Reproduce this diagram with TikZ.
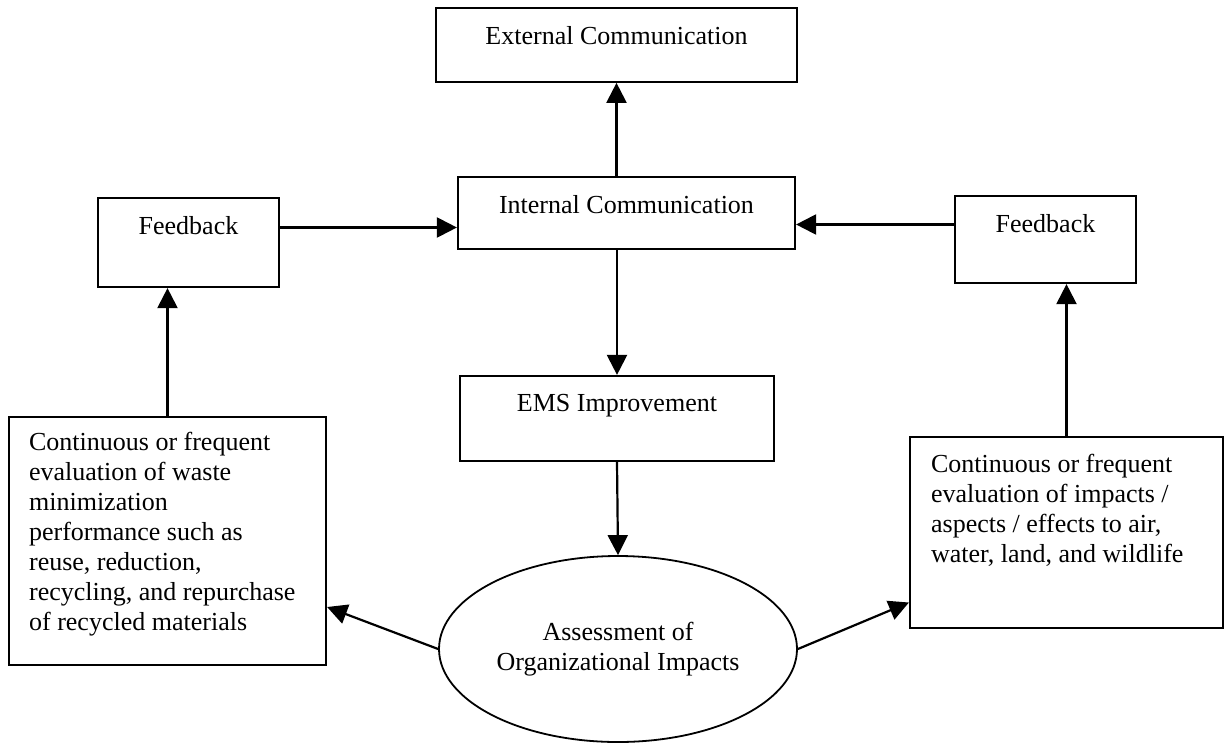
\documentclass[tikz,border=0pt]{standalone}
\usepackage{fontspec}
\setmainfont{Liberation Serif}
\usetikzlibrary{arrows.meta,shapes.geometric}
\begin{document}
\begin{tikzpicture}[x=1pt,y=-1pt,
  every node/.style={font=\fontsize{26}{30}\selectfont},
  frame/.style={draw, line width=2.2pt, rectangle, inner sep=0pt},
  toplabel/.style={anchor=north, yshift=-19pt, inner sep=0pt},
  cornerlabel/.style={anchor=north west, align=left, inner sep=0pt},
  link/.style={line width=2.2pt, -{Triangle[length=20pt,width=20pt]}}]
\useasboundingbox (0,0) rectangle (1225,742);

% communication and feedback boxes
\node[frame, minimum width=361pt, minimum height=73.5pt,
      label={[toplabel]north:External Communication}] (ext) at (616.5,45) {};
\node[frame, minimum width=337pt, minimum height=72pt,
      label={[toplabel]north:Internal Communication}] (int) at (626.5,213) {};
\node[frame, minimum width=181pt, minimum height=89pt,
      label={[toplabel]north:Feedback}] (fbl) at (188.5,242.5) {};
\node[frame, minimum width=181pt, minimum height=87pt,
      label={[toplabel]north:Feedback}] (fbr) at (1045.5,239.5) {};
\node[frame, minimum width=314pt, minimum height=85pt,
      label={[toplabel]north:EMS Improvement}] (ems) at (617,418.5) {};

% evaluation boxes
\node[frame, minimum width=317pt, minimum height=248pt,
      label={[cornerlabel, xshift=21pt, yshift=-16pt]north west:Continuous or frequent\\evaluation of waste\\minimization\\performance such as\\reuse, reduction,\\recycling, and repurchase\\of recycled materials}] (lbox) at (167.5,541) {};
\node[frame, minimum width=313pt, minimum height=191pt,
      label={[cornerlabel, xshift=22pt, yshift=-18pt]north west:Continuous or frequent\\evaluation of impacts /\\aspects / effects to air,\\water, land, and wildlife}] (rbox) at (1066.5,532.5) {};

% assessment
\node[draw, ellipse, line width=1.8pt, minimum width=358pt, minimum height=186pt,
      inner sep=0pt, align=center] (ell) at (618,649) {Assessment of\\Organizational Impacts};

% connectors
\coordinate (fblout) at ([yshift=15pt]fbl.east);
\coordinate (fbrout) at ([yshift=15pt]fbr.west);
\draw[link] (int.north -| ext.south) -- (ext.south);
\draw[link] (fblout) -- (fblout -| int.west);
\draw[link] (fbrout) -- (fbrout -| int.east);
\draw[link] (int.south -| ems.north) -- (ems.north);
\draw[link] (ems.south) -- (ell.north);
\draw[link] (lbox.north) -- (lbox.north |- fbl.south);
\draw[link] (rbox.north) -- (rbox.north |- fbr.south);
\draw[link] (ell.west) -- ([yshift=-66pt]lbox.east);
\draw[link] (ell.east) -- ([yshift=-70pt]rbox.west);
\end{tikzpicture}
\end{document}
